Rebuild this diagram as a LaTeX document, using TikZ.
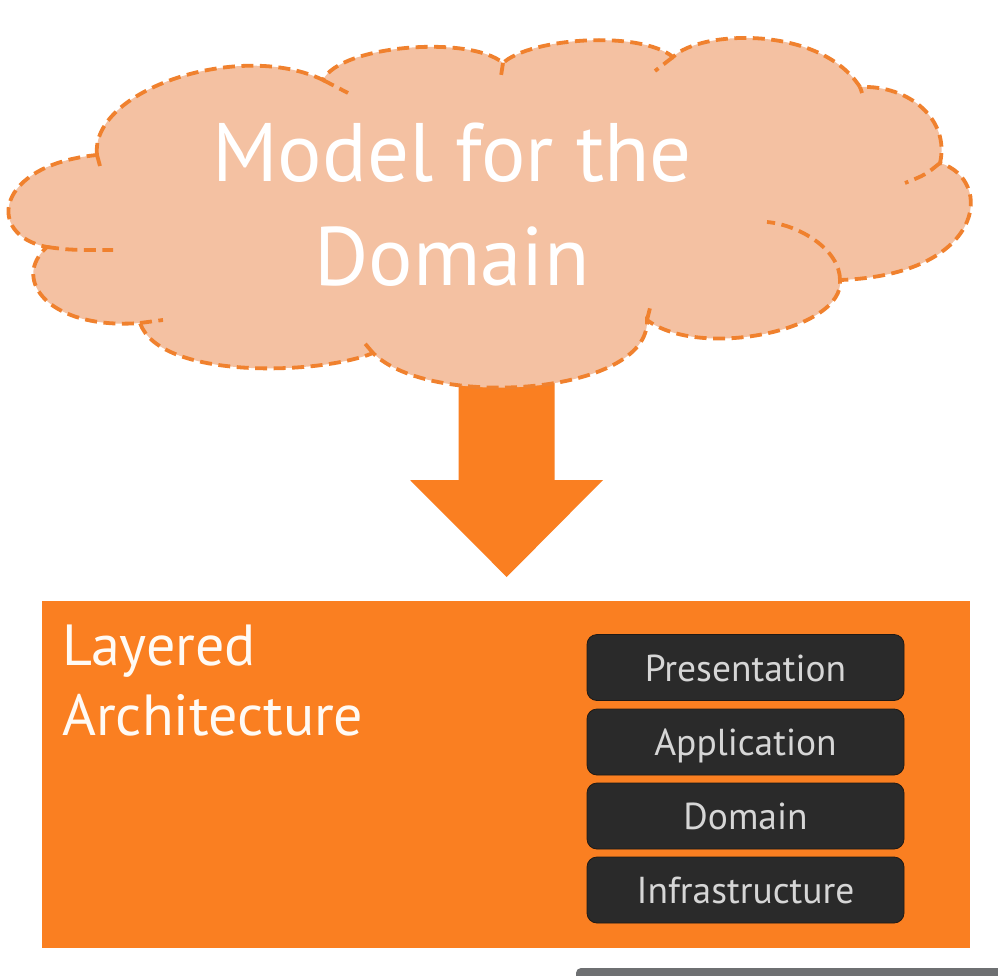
\documentclass[tikz,border=0pt]{standalone}
\usepackage{fontspec}
\setmainfont{PT Sans}
\usetikzlibrary{calc}
\definecolor{cloudfill}{HTML}{F4C1A2}
\definecolor{cloudline}{HTML}{F0812E}
\definecolor{orng}{HTML}{FA7F21}
\definecolor{darkbox}{HTML}{2A2A2A}
\definecolor{boxedge}{HTML}{1E1915}
\definecolor{boxtext}{HTML}{D6D6D6}
\definecolor{greybar}{HTML}{6E7072}
\definecolor{cream}{HTML}{FFFAF4}
\begin{document}
\begin{tikzpicture}[x=1pt,y=-1pt,
  cloudstroke/.style={draw=cloudline, line width=3.8pt, dash pattern=on 12pt off 6.5pt},
  cloudtext/.style={text=white, inner sep=0pt, font=\fontsize{83}{90}\selectfont},
  laytext/.style={text=cream, inner sep=0pt, anchor=base west, font=\fontsize{58}{62}\selectfont},
  layerbox/.style={fill=darkbox, draw=boxedge, line width=0.8pt, rounded corners=10pt,
    minimum width=317pt, minimum height=66pt, inner sep=0pt, text=boxtext,
    font=\fontsize{37.5}{40}\selectfont, text height=27pt, text depth=0pt}]
\fill[white] (0,0) rectangle (998,976);
\useasboundingbox (0,0) rectangle (998,976);
% layered architecture block
\node[fill=orng, minimum width=928pt, minimum height=347pt, inner sep=0pt, anchor=north west] (layers) at (42,601) {};
\node[laytext] (lay1) at (62,665) {Layered};
\node[laytext] (lay2) at (62,735) {Architecture};
\node[layerbox] (pres) at (745.5,667.5) {Presentation};
\node[layerbox] (appl) at (745.5,742) {Application};
\node[layerbox] (dom) at (745.5,816) {Domain};
\node[layerbox] (infra) at (745.5,890) {Infrastructure};
% arrow
\coordinate (cloudbot) at (506.5,380);
\fill[orng] ($(cloudbot)+(-48,0)$) -- ($(cloudbot)+(48,0)$) -- ($(cloudbot)+(48,100)$)
  -- ($(cloudbot)+(96.5,100)$) -- ($(layers.north)+(0.5,-24)$) -- ($(cloudbot)+(-96.5,100)$)
  -- ($(cloudbot)+(-48,100)$) -- cycle;
% cloud
\path[fill=cloudfill, cloudstroke] (97,155) .. controls (90,90) and (240,40) .. (323,80)
 .. controls (340,45) and (470,35) .. (503,63)
 .. controls (530,38) and (640,30) .. (673,57)
 .. controls (700,30) and (820,25) .. (860,87)
 .. controls (910,85) and (950,120) .. (940,163)
 .. controls (995,180) and (985,275) .. (840,280)
 .. controls (845,330) and (700,360) .. (647,320)
 .. controls (650,395) and (430,410) .. (373,353)
 .. controls (320,375) and (160,380) .. (140,323)
 .. controls (50,330) and (10,280) .. (47,247)
 .. controls (-15,235) and (-5,165) .. (97,155) -- cycle;
\draw[cloudstroke] (97,155) -- (100,166);
\draw[cloudstroke] (323,80) -- (348,93);
\draw[cloudstroke] (503,63) -- (501,76);
\draw[cloudstroke] (673,57) -- (655,71);
\draw[cloudstroke] (860,87) -- (862,93);
\draw[cloudstroke] (940,163) .. controls (925,175) .. (905,183);
\draw[cloudstroke] (840,280) .. controls (840,250) and (800,225) .. (767,222);
\draw[cloudstroke] (647,320) -- (650,308);
\draw[cloudstroke] (373,353) -- (362,340);
\draw[cloudstroke] (140,323) -- (163,320);
\draw[cloudstroke] (47,247) .. controls (70,250) .. (113,250);
\node[cloudtext, anchor=base] (title1) at (452,182) {Model for the};
\node[cloudtext, anchor=base] (title2) at (452,285) {Domain};
% grey bar at bottom edge
\fill[greybar, rounded corners=5pt] (576,968) rectangle (1020,1000);
\end{tikzpicture}
\end{document}
